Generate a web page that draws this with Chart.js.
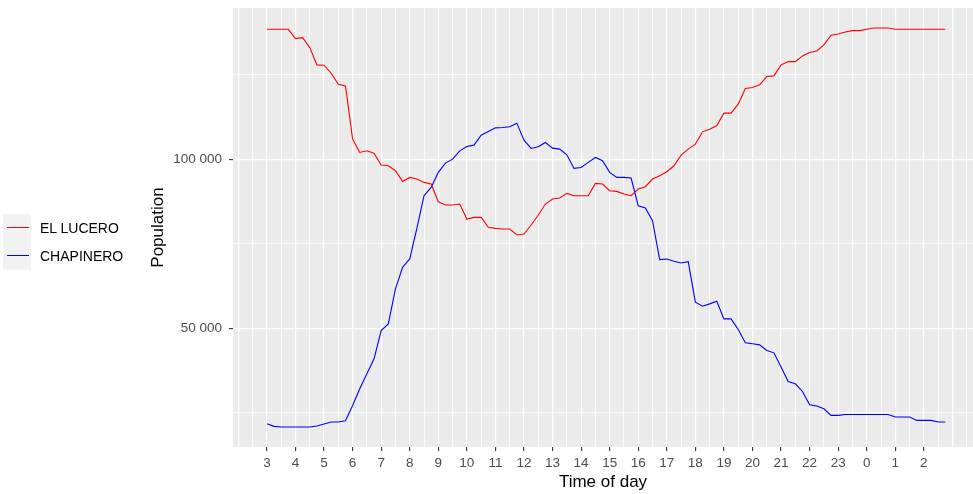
<!DOCTYPE html>
<html>
<head>
<meta charset="utf-8">
<script src="https://cdn.jsdelivr.net/npm/chart.js@4.4.1/dist/chart.umd.min.js"></script>
<style>
  html, body { margin: 0; padding: 0; background: #fff; }
  #wrap { position: relative; width: 973px; height: 494px; }
  #legend { position: absolute; left: 3px; top: 214px; font-family: 'Liberation Sans', Arial, sans-serif; font-size: 14px; color: #000; }
  .item { display: flex; align-items: center; height: 28px; }
  .key { width: 28px; height: 28px; background: #f2f2f2; position: relative; }
  .key i { position: absolute; left: 4px; right: 2px; top: 13px; height: 1.3px; }
  .item span { margin-left: 9px; }
</style>
</head>
<body>
<div id="wrap">
  <canvas id="chart" width="973" height="494"></canvas>
  <div id="legend"></div>
</div>
<script>
// hour labels shown on the x axis (3h .. 2h next day)
const hourLabels = [3, 4, 5, 6, 7, 8, 9, 10, 11, 12, 13, 14, 15, 16, 17, 18, 19, 20, 21, 22, 23, 0, 1, 2];
const seriesNames = ['EL LUCERO', 'CHAPINERO'];
const seriesColors = ['#ff0000', '#0000ff'];
// horizontal grid values, only some of them get a label
const yGrid = [25000, 50000, 75000, 100000, 125000];
const yLabelled = [50000, 100000];

// population every 15 minutes, from 03:00 to 02:45
const elLucero = [
    138350, 138350, 138350, 138350,   // 3
    135600, 135900, 132950, 127830,   // 4
    127730, 125370, 122130, 121630,   // 5
    105900, 101970, 102460, 101770,   // 6
    98230, 98030, 96560, 93410,       // 7
    94590, 94100, 93120, 92630,       // 8
    87410, 86430, 86430, 86730,       // 9
    82300, 82790, 82790, 79840,       // 10
    79550, 79350, 79350, 77580,       // 11
    77880, 80530, 83480, 86730,       // 12
    88200, 88500, 89870, 89180,       // 13
    89180, 89180, 92820, 92630,       // 14
    90660, 90460, 89680, 89180,       // 15
    91150, 91840, 94100, 95080,       // 16
    96260, 98030, 101180, 102950,     // 17
    104430, 108060, 108850, 109930,   // 18
    113570, 113570, 116230, 120850,   // 19
    121140, 121930, 124390, 124590,   // 20
    127830, 128810, 128810, 130480,   // 21
    131470, 131960, 133730, 136580,   // 22
    136970, 137560, 137950, 137950,   // 23
    138350, 138740, 138740, 138740,   // 0
    138350, 138350, 138350, 138350,   // 1
    138350, 138350, 138350, 138350    // 2
];
const chapinero = [
    21830, 21040, 20840, 20840,       // 3
    20840, 20840, 20840, 21140,       // 4
    21730, 22320, 22320, 22710,       // 5
    27230, 32150, 36580, 41000,       // 6
    49350, 51330, 61650, 68050,       // 7
    70500, 79550, 89180, 91640,       // 8
    96070, 98820, 100000, 102450,     // 9
    103740, 104130, 107080, 108160,   // 10
    109240, 109340, 109540, 110620,   // 11
    105610, 103150, 103640, 104920,   // 12
    103250, 102950, 101270, 97250,    // 13
    97540, 99020, 100490, 99510,      // 14
    96070, 94590, 94590, 94400,       // 15
    86230, 85550, 81800, 70300,       // 16
    70500, 69820, 69320, 69700,       // 17
    57730, 56550, 57230, 58020,       // 18
    52800, 52800, 49650, 45720,       // 19
    45430, 45130, 43450, 42770,       // 20
    38550, 34300, 33630, 31350,       // 21
    27430, 27040, 26250, 24280,       // 22
    24280, 24570, 24570, 24570,       // 23
    24570, 24570, 24570, 24570,       // 0
    23800, 23800, 23800, 22810,       // 1
    22810, 22810, 22320, 22320        // 2
];

const FONT = "'Liberation Sans', Arial, sans-serif";
const X_MIN = 1.8125, X_MAX = 27.72;

function toPoints(arr) {
    return arr.map((v, i) => ({ x: hourLabels[0] + i / 4, y: v }));
}

function fmtThousands(v) {
    return String(v).replace(/\B(?=(\d{3})+(?!\d))/g, ' ');
}

function isHourTick(v) {
    return Number.isInteger(v) && v >= 3 && v < 3 + hourLabels.length;
}

const panelBg = {
    id: 'panelBg',
    beforeDraw(chart) {
        const { ctx, chartArea: a } = chart;
        ctx.save();
        ctx.fillStyle = '#ebebeb';
        ctx.fillRect(a.left, a.top, a.right - a.left, a.bottom - a.top);
        ctx.restore();
    }
};

new Chart(document.getElementById('chart').getContext('2d'), {
    type: 'line',
    data: {
        datasets: [elLucero, chapinero].map((arr, k) => ({
            label: seriesNames[k],
            data: toPoints(arr),
            borderColor: seriesColors[k],
            borderWidth: 1.1,
            pointRadius: 0,
            tension: 0,
            fill: false
        }))
    },
    options: {
        responsive: false,
        animation: false,
        layout: { padding: { left: 144, top: 8, right: 0, bottom: 0 } },
        plugins: { legend: { display: false }, tooltip: { enabled: false } },
        scales: {
            x: {
                type: 'linear',
                min: X_MIN,
                max: X_MAX,
                afterBuildTicks(s) {
                    // grid every half hour across the panel
                    const t = [];
                    for (let v = Math.ceil(X_MIN * 2) / 2; v <= X_MAX; v += 0.5) t.push({ value: v });
                    s.ticks = t;
                },
                afterFit(s) { s.height = 47; s.paddingLeft = 0; s.paddingRight = 0; },
                border: { display: false },
                grid: {
                    color: '#ffffff',
                    lineWidth: c => Number.isInteger(c.tick.value) ? 1.2 : 0.8,
                    tickLength: 4,
                    tickWidth: 1.1,
                    tickColor: c => isHourTick(c.tick.value) ? '#333333' : 'rgba(0,0,0,0)'
                },
                ticks: {
                    autoSkip: false,
                    maxRotation: 0,
                    padding: 4,
                    color: '#4d4d4d',
                    font: { family: FONT, size: 13.5 },
                    callback: v => isHourTick(v) ? String(hourLabels[v - 3]) : ''
                },
                title: {
                    display: true,
                    text: 'Time of day',
                    color: '#000',
                    font: { family: FONT, size: 17 },
                    padding: { top: 0, bottom: 1 }
                }
            },
            y: {
                min: 14950,
                max: 144640,
                afterBuildTicks(s) { s.ticks = yGrid.map(v => ({ value: v })); },
                afterFit(s) { s.width = 89; s.paddingTop = 0; s.paddingBottom = 0; },
                border: { display: false },
                grid: {
                    color: '#ffffff',
                    lineWidth: c => yLabelled.includes(c.tick.value) ? 1.2 : 0.8,
                    tickLength: 4,
                    tickWidth: 1.1,
                    tickColor: c => yLabelled.includes(c.tick.value) ? '#333333' : 'rgba(0,0,0,0)'
                },
                ticks: {
                    autoSkip: false,
                    padding: 7,
                    color: '#4d4d4d',
                    font: { family: FONT, size: 13.5 },
                    callback: v => yLabelled.includes(v) ? fmtThousands(v) : ''
                },
                title: {
                    display: true,
                    text: 'Population',
                    color: '#000',
                    font: { family: FONT, size: 17 },
                    padding: { top: 4, bottom: 0 }
                }
            }
        }
    },
    plugins: [panelBg]
});

// legend on the left, like the ggplot guide
const legend = document.getElementById('legend');
seriesNames.forEach((name, k) => {
    const row = document.createElement('div');
    row.className = 'item';
    row.innerHTML = '<div class="key"><i style="background:' + seriesColors[k] + '"></i></div><span>' + name + '</span>';
    legend.appendChild(row);
});
</script>
</body>
</html>
